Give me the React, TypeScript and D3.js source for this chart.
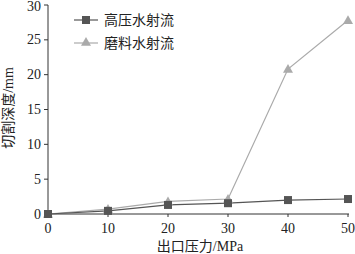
import React from "react";
import * as d3 from "d3";

const pressures = [0, 10, 20, 30, 40, 50];
const highPressure = [0, 0.45, 1.3, 1.55, 2.0, 2.15];
const abrasive = [0, 0.7, 1.8, 2.15, 20.8, 27.8];
const xTicks = [0, 10, 20, 30, 40, 50];
const yTicks = [0, 5, 10, 15, 20, 25, 30];
const seriesNames = ["高压水射流", "磨料水射流"];

const W = 355, H = 254;
const font = "'Liberation Serif', 'Noto Sans CJK SC', serif";

export default function App() {
  const x = d3.scaleLinear().domain([0, 50]).range([48, 348]);
  const y = d3.scaleLinear().domain([0, 30]).range([214, 5]);
  const line = d3.line<number>().x((_, i) => x(pressures[i])).y((d) => y(d));
  const dark = "#555";
  const light = "#aaa";
  const tri = (cx: number, cy: number, s = 5) =>
    `M${cx},${cy - s} L${cx + s},${cy + s * 0.75} L${cx - s},${cy + s * 0.75} Z`;
  return (
    <svg width={W} height={H} style={{ position: "absolute", left: 0, top: 0, background: "#fff" }}>
      <line x1={48} x2={48} y1={5} y2={214} stroke="#333" strokeWidth={1} />
      <line x1={48} x2={349} y1={214} y2={214} stroke="#333" strokeWidth={1} />
      {yTicks.map((t) => (
        <g key={t}>
          <line x1={44} x2={48} y1={y(t)} y2={y(t)} stroke="#333" />
          <text x={41} y={Math.max(y(t) + 4.5, 11)} textAnchor="end" fontFamily={font} fontSize={14} fill="#222">
            {t}
          </text>
        </g>
      ))}
      {xTicks.map((t) => (
        <g key={t}>
          <line x1={x(t)} x2={x(t)} y1={214} y2={217} stroke="#333" />
          <text x={x(t)} y={233} textAnchor="middle" fontFamily={font} fontSize={14} fill="#222">
            {t}
          </text>
        </g>
      ))}
      <text x={200} y={251} textAnchor="middle" fontFamily={font} fontSize={14} fill="#222">
        出口压力/MPa
      </text>
      <text
        transform={`translate(13,${108}) rotate(-90)`}
        textAnchor="middle"
        fontFamily={font}
        fontSize={14}
        fill="#222"
      >
        切割深度/mm
      </text>
      <path d={line(abrasive) || ""} fill="none" stroke={light} strokeWidth={1.2} />
      <path d={line(highPressure) || ""} fill="none" stroke={dark} strokeWidth={1.2} />
      {abrasive.map((v, i) => (
        <path key={"a" + i} d={tri(x(pressures[i]), y(v))} fill={light} />
      ))}
      {highPressure.map((v, i) => (
        <rect key={"h" + i} x={x(pressures[i]) - 4} y={y(v) - 4} width={8} height={8} fill={dark} />
      ))}
      <line x1={74} x2={98} y1={20} y2={20} stroke={dark} strokeWidth={1.2} />
      <rect x={82} y={16} width={8} height={8} fill={dark} />
      <text x={104} y={25} fontFamily={font} fontSize={14} fill="#222">
        {seriesNames[0]}
      </text>
      <line x1={74} x2={98} y1={43} y2={43} stroke={light} strokeWidth={1.2} />
      <path d={tri(86, 42)} fill={light} />
      <text x={104} y={48} fontFamily={font} fontSize={14} fill="#222">
        {seriesNames[1]}
      </text>
    </svg>
  );
}
